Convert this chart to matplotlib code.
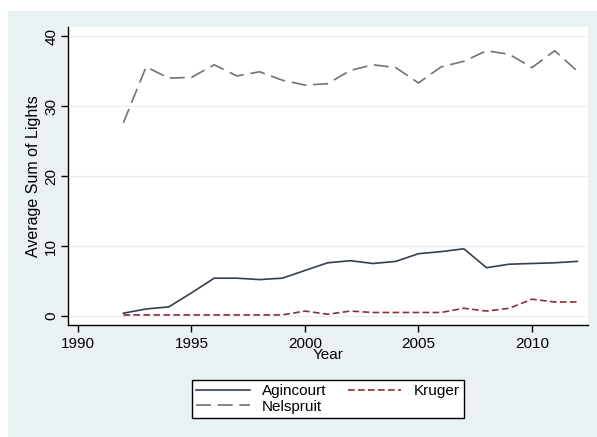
import matplotlib.pyplot as plt
from matplotlib.patches import Rectangle

years = list(range(1992, 2013))
agincourt = [0.4, 1.0, 1.3, 3.3, 5.4, 5.4, 5.2, 5.4, 6.5, 7.6, 7.9, 7.5, 7.8,
             8.9, 9.2, 9.6, 6.9, 7.4, 7.5, 7.6, 7.8]
kruger = [0.15, 0.15, 0.15, 0.15, 0.15, 0.15, 0.15, 0.15, 0.7, 0.25, 0.7, 0.5,
          0.5, 0.5, 0.5, 1.1, 0.7, 1.1, 2.4, 2.0, 2.0]
nelspruit = [27.6, 35.6, 34.0, 34.1, 35.9, 34.3, 34.9, 33.7, 33.0, 33.2, 35.1,
             35.9, 35.5, 33.3, 35.6, 36.4, 37.9, 37.4, 35.5, 37.9, 35.0]
xticks = [1990, 1995, 2000, 2005, 2010]
yticks = [0, 10, 20, 30, 40]

plt.rcParams['font.family'] = ['Liberation Sans', 'DejaVu Sans']

W, H = 597, 437
fig = plt.figure(figsize=(W / 100, H / 100), dpi=100, facecolor='white')
# graph region background (behind the axes)
fig.patches.append(Rectangle((8 / W, 0), 1 - 8 / W, 1 - 11 / H,
                             transform=fig.transFigure, facecolor='#eaf1f3',
                             edgecolor='none', zorder=-10))

ax = fig.add_axes([68 / W, (H - 325) / H, 520 / W, (325 - 27) / H])
ax.set_facecolor('white')

l1, = ax.plot(years, agincourt, color='#34404e', lw=1.2, label='Agincourt')
l2, = ax.plot(years, kruger, color='#8c2e3a', lw=1.2, ls=(0, (4, 2)), label='Kruger')
l3, = ax.plot(years, nelspruit, color='#737373', lw=1.2, ls=(0, (9, 4)), label='Nelspruit')

ax.set_xlim(1989.56, 2012.47)
ax.set_ylim(-1.29, 41.3)
ax.set_xticks(xticks)
ax.set_yticks(yticks)
ax.set_yticklabels([str(v) for v in yticks], rotation=90, va='center')
ax.tick_params(labelsize=11, length=5, width=1, direction='out', colors='black')
ax.tick_params(axis='y', pad=2)
ax.grid(axis='y', color='#ececec', lw=0.8)
ax.set_axisbelow(True)

for s in ['top', 'right']:
    ax.spines[s].set_visible(False)
for s in ['left', 'bottom']:
    ax.spines[s].set_color('black')
    ax.spines[s].set_linewidth(1)

ax.set_xlabel('Year', fontsize=11, labelpad=-2)
ax.set_ylabel('Average Sum of Lights', fontsize=11.5, labelpad=2)

leg = fig.legend([l1, l3, l2], ['Agincourt', 'Nelspruit', 'Kruger'], ncol=2,
                 loc='upper center', bbox_to_anchor=(328 / W, 1 - 372 / H),
                 fontsize=11, frameon=True, fancybox=False, edgecolor='black',
                 handlelength=3.5, handletextpad=0.8, columnspacing=1.4,
                 borderpad=0.3, labelspacing=0.1)
leg.get_frame().set_linewidth(1)
leg.get_frame().set_alpha(1)

fig.savefig('out.png', dpi=100, facecolor=fig.get_facecolor())
